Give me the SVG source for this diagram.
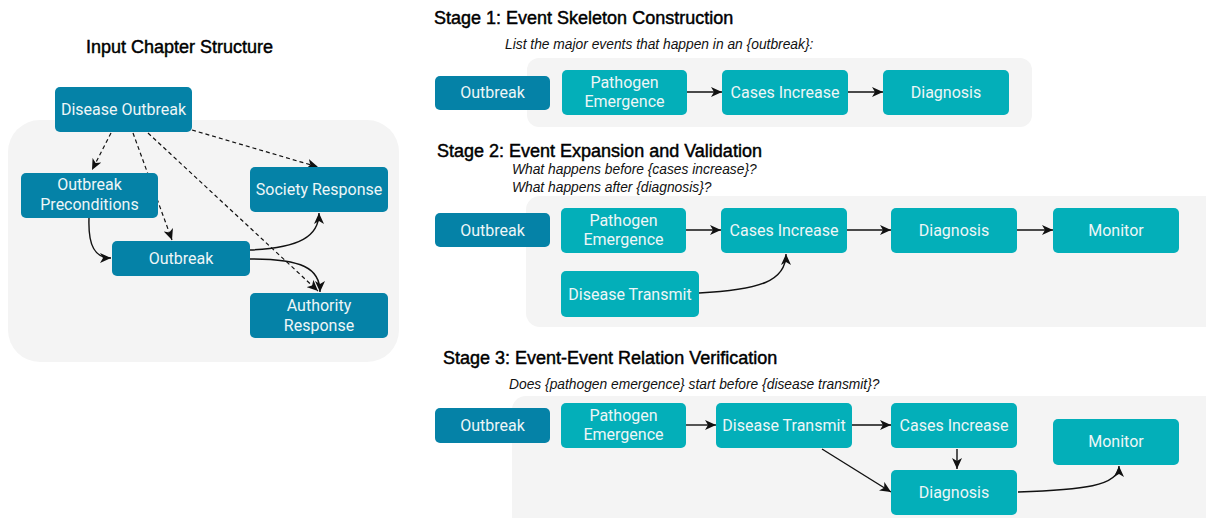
<svg xmlns="http://www.w3.org/2000/svg" width="1206" height="518" viewBox="0 0 1206 518">
<defs>
<marker id="ah" markerUnits="userSpaceOnUse" markerWidth="12" markerHeight="10" refX="11" refY="5" orient="auto">
<path d="M0,0 L11,5 L0,10 L3,5 z" fill="#111"/>
</marker>
<style>
.bg{fill:#F4F4F4}
.dk{fill:#0582A7}
.lt{fill:#03AFB9}
.nt{font-family:Roboto,"Liberation Sans",sans-serif;font-size:16px;fill:#EEF6F7;text-anchor:middle}
.ttl{font-family:"Liberation Sans",Arial,sans-serif;font-size:18px;fill:#000;stroke:#000;stroke-width:0.45}
.sub{font-family:"Liberation Sans",Arial,sans-serif;font-size:13.8px;font-style:italic;fill:#111}
.ln{fill:none;stroke:#111;stroke-width:1.4;marker-end:url(#ah)}
.ds{fill:none;stroke:#111;stroke-width:1.2;stroke-dasharray:4 3;marker-end:url(#ah)}
</style>
</defs>
<rect class="bg" x="8" y="120" width="391" height="242" rx="32"/>
<rect class="bg" x="527" y="58" width="505" height="69" rx="12"/>
<rect class="bg" x="526" y="196" width="700" height="131" rx="14"/>
<rect class="bg" x="512" y="396" width="714" height="136" rx="14"/>
<text class="ttl" x="86" y="53">Input Chapter Structure</text>
<text class="ttl" x="434" y="24">Stage 1: Event Skeleton Construction</text>
<text class="sub" x="505" y="49">List the major events that happen in an {outbreak}:</text>
<text class="ttl" x="437" y="157">Stage 2: Event Expansion and Validation</text>
<text class="sub" x="512" y="174">What happens before {cases increase}?</text>
<text class="sub" x="512" y="192">What happens after {diagnosis}?</text>
<text class="ttl" x="443" y="364">Stage 3: Event-Event Relation Verification</text>
<text class="sub" x="509" y="389">Does {pathogen emergence} start before {disease transmit}?</text>
<g id="connectors">
<path class="ds" d="M111,133 L92,170"/>
<path class="ds" d="M133,133 L172,240"/>
<path class="ds" d="M148,133 L318,291"/>
<path class="ds" d="M192,130 L318,167"/>
<path class="ln" d="M89,218 C88,246 95,258 111,258"/>
<path class="ln" d="M250,250 C300,248 319,236 319,213"/>
<path class="ln" d="M250,259 C302,259 320,268 320,292"/>
<path class="ln" d="M687,92 L722,92"/>
<path class="ln" d="M848,92 L883,92"/>
<path class="ln" d="M686,230 L721,230"/>
<path class="ln" d="M847,230 L891,230"/>
<path class="ln" d="M1017,230 L1053,230"/>
<path class="ln" d="M699,293 C760,290 786,281 786,254"/>
<path class="ln" d="M686,425 L716,425"/>
<path class="ln" d="M852,425 L891,425"/>
<path class="ln" d="M957,449 L957,469"/>
<path class="ln" d="M822,449 L891,492"/>
<path class="ln" d="M1018,492 C1082,490 1119,486 1119,466"/>
</g>
<g id="n-disease-outbreak"><rect class="dk" x="55" y="87" width="137" height="45" rx="5"/><text class="nt" x="123.5" y="115">Disease Outbreak</text></g>
<g id="n-outbreak-preconditions"><rect class="dk" x="21" y="173" width="137" height="45" rx="5"/><text class="nt" x="89.5" y="190">Outbreak</text><text class="nt" x="89.5" y="210">Preconditions</text></g>
<g id="n-society-response"><rect class="dk" x="250" y="167" width="138" height="45" rx="5"/><text class="nt" x="319" y="195">Society Response</text></g>
<g id="n-outbreak-left"><rect class="dk" x="112" y="241" width="138" height="35" rx="5"/><text class="nt" x="181" y="264">Outbreak</text></g>
<g id="n-authority-response"><rect class="dk" x="250" y="293" width="138" height="45" rx="5"/><text class="nt" x="319" y="311">Authority</text><text class="nt" x="319" y="331">Response</text></g>
<g id="s1-outbreak"><rect class="dk" x="435" y="76" width="115" height="34" rx="5"/><text class="nt" x="492.5" y="98">Outbreak</text></g>
<g id="s1-pathogen"><rect class="lt" x="562" y="70" width="125" height="45" rx="5"/><text class="nt" x="624.5" y="88">Pathogen</text><text class="nt" x="624.5" y="107">Emergence</text></g>
<g id="s1-cases"><rect class="lt" x="722" y="70" width="126" height="45" rx="5"/><text class="nt" x="785" y="98">Cases Increase</text></g>
<g id="s1-diagnosis"><rect class="lt" x="883" y="70" width="126" height="45" rx="5"/><text class="nt" x="946" y="98">Diagnosis</text></g>
<g id="s2-outbreak"><rect class="dk" x="435" y="213" width="115" height="34" rx="5"/><text class="nt" x="492.5" y="235.5">Outbreak</text></g>
<g id="s2-pathogen"><rect class="lt" x="561" y="208" width="125" height="45" rx="5"/><text class="nt" x="623.5" y="226">Pathogen</text><text class="nt" x="623.5" y="245">Emergence</text></g>
<g id="s2-cases"><rect class="lt" x="721" y="208" width="126" height="45" rx="5"/><text class="nt" x="784" y="236">Cases Increase</text></g>
<g id="s2-diagnosis"><rect class="lt" x="891" y="208" width="126" height="45" rx="5"/><text class="nt" x="954" y="236">Diagnosis</text></g>
<g id="s2-monitor"><rect class="lt" x="1053" y="208" width="126" height="45" rx="5"/><text class="nt" x="1116" y="236">Monitor</text></g>
<g id="s2-transmit"><rect class="lt" x="561" y="271" width="138" height="46" rx="5"/><text class="nt" x="630" y="299.5">Disease Transmit</text></g>
<g id="s3-outbreak"><rect class="dk" x="435" y="408" width="115" height="35" rx="5"/><text class="nt" x="492.5" y="431">Outbreak</text></g>
<g id="s3-pathogen"><rect class="lt" x="561" y="403" width="125" height="45" rx="5"/><text class="nt" x="623.5" y="421">Pathogen</text><text class="nt" x="623.5" y="440">Emergence</text></g>
<g id="s3-transmit"><rect class="lt" x="716" y="403" width="136" height="45" rx="5"/><text class="nt" x="784" y="431">Disease Transmit</text></g>
<g id="s3-cases"><rect class="lt" x="891" y="403" width="126" height="45" rx="5"/><text class="nt" x="954" y="431">Cases Increase</text></g>
<g id="s3-monitor"><rect class="lt" x="1053" y="419" width="126" height="46" rx="5"/><text class="nt" x="1116" y="447">Monitor</text></g>
<g id="s3-diagnosis"><rect class="lt" x="891" y="470" width="126" height="45" rx="5"/><text class="nt" x="954" y="498">Diagnosis</text></g>
</svg>
